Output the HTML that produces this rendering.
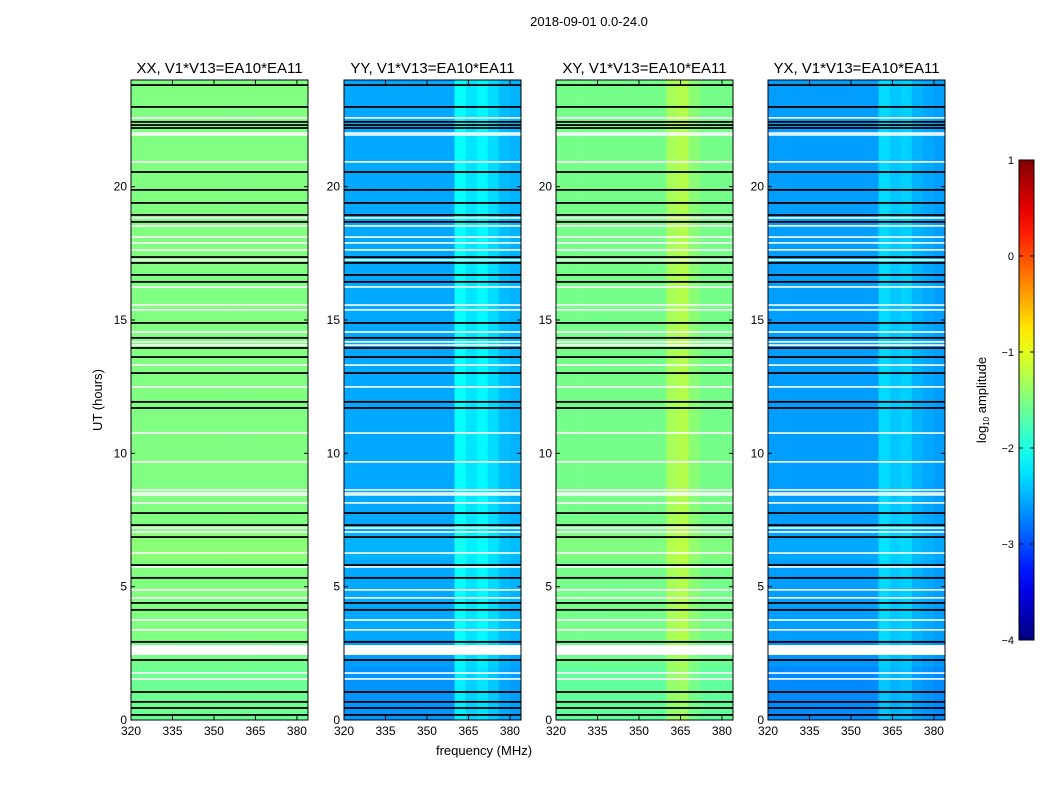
<!DOCTYPE html>
<html><head><meta charset="utf-8">
<style>
html,body{margin:0;padding:0;background:#fff;}
svg{display:block;font-family:"Liberation Sans","DejaVu Sans",sans-serif;}
</style></head>
<body>
<svg id="fig" width="1050" height="800" viewBox="0 0 1050 800" xmlns="http://www.w3.org/2000/svg">
<rect width="1050" height="800" fill="#fff"/>
<text x="589" y="26" font-size="13" text-anchor="middle">2018-09-01 0.0-24.0</text>
<text transform="translate(102,400) rotate(-90)" font-size="13" text-anchor="middle">UT (hours)</text>
<text x="484" y="755" font-size="13" text-anchor="middle">frequency (MHz)</text>
<g id="panels"></g>
<g id="cbar"></g>
</svg>
<script>
// ---- data ----
const panelNames = ["XX","YY","XY","YX"];
const panelBase = [-1.5, -2.55, -1.55, -2.6];
const freqBins = [320,324,328,332,336,340,344,348,352,356,360,364,368,372,376,380,384];
const colOffsetXX = [0,0,0,0,0,0,0,0,0,0,0,0,0,0,0,0];
const colOffsetYY = [0,0,0,0,0,0,0,0,0,0,0.45,0.3,0.4,0.25,0.1,0.05];
const colOffsetXY = [0,0,0,0,0,0,0,0,0,0,0.25,0.3,0.1,0,0,0];
const colOffsetYX = [0,0,0,0,0,0,0,0,0,0,0.3,0.2,0.25,0.1,0.05,0];
const hourOffsets = [-0.1,-0.1,-0.05,0,0,0,0.05,0,0,0,0,0,0,0,0,0,0,0,0,0,0,0,0,0];
const blackLines = [23.81,22.99,22.43,22.31,22.2,20.55,19.88,19.39,18.94,18.68,17.36,17.14,16.69,16.43,14.89,14.33,13.95,13.61,13.01,11.93,11.7,7.76,7.31,6.86,5.81,5.33,4.39,4.13,2.93,2.25,1.05,0.68,0.45,0.19];
const whiteLines = [22.58,22.01,21.94,20.93,18.83,18.53,18.11,17.89,17.63,17.25,16.24,15.56,15.38,14.55,14.18,14.06,13.31,12.49,10.76,9.68,8.63,8.51,8.44,8.14,7.2,7.05,6.26,5.74,4.88,4.58,3.75,3.38,1.76,1.54];
const whiteBlock = [2.44, 2.81];
const xTicks = [320,335,350,365,380];
const yTicks = [0,5,10,15,20];
const cbTicks = [1,0,-1,-2,-3,-4];

const colOffsets = [colOffsetXX,colOffsetYY,colOffsetXY,colOffsetYX];
const panelX = [131,344,556,768];
const PW = 177, PT = 80, PB = 720;
const NS = "http://www.w3.org/2000/svg";
function xs(p,f){return panelX[p] + (f-320)/(384-320)*PW;}
function ys(h){return PB - h/24*(PB-PT);}
function jet(v){
  let t=(v+4)/5; t=Math.max(0,Math.min(1,t));
  const c=x=>Math.max(0,Math.min(1,x));
  const r=c(1.5-Math.abs(4*t-3)), g=c(1.5-Math.abs(4*t-2)), b=c(1.5-Math.abs(4*t-1));
  return `rgb(${Math.round(r*255)},${Math.round(g*255)},${Math.round(b*255)})`;
}
function mk(tag,attrs,parent){const e=document.createElementNS(NS,tag);for(const k in attrs)e.setAttribute(k,attrs[k]);parent.appendChild(e);return e;}
const panels=document.getElementById('panels');
for(let p=0;p<4;p++){
  const g=mk('g',{},panels);
  
  
  for(let i=0;i<freqBins.length-1;i++){
    for(let h=0;h<24;h++){
      const v=panelBase[p]+colOffsets[p][i]+hourOffsets[h];
      const x0=xs(p,freqBins[i]), x1=xs(p,freqBins[i+1]);
      const r=mk('rect',{x:x0,y:ys(h+1),width:x1-x0+0.3,height:ys(h)-ys(h+1)+0.3,fill:jet(v)},g);
      
      
    }
  }
  for(const h of whiteLines){
    const r=mk('rect',{x:panelX[p],y:ys(h)-0.8,width:PW,height:1.6,fill:'#fff'},g);
    
    
  }
  const wb=mk('rect',{x:panelX[p],y:ys(whiteBlock[1]),width:PW,height:ys(whiteBlock[0])-ys(whiteBlock[1]),fill:'#fff'},g);
  
  
  for(const h of blackLines){
    const r=mk('rect',{x:panelX[p],y:ys(h)-0.9,width:PW,height:1.8,fill:'#000'},g);
    
    
  }
  const fr=mk('rect',{x:panelX[p],y:PT,width:PW,height:PB-PT,fill:'none',stroke:'#000','stroke-width':1},g);
  
  
  const t=mk('text',{x:panelX[p]+PW/2,y:73,'font-size':15,'text-anchor':'middle'},g);
  t.textContent=panelNames[p]+', V1*V13=EA10*EA11';
  
  
  for(const f of xTicks){
    const x=xs(p,f);
    mk('line',{x1:x,x2:x,y1:PB,y2:PB-4,stroke:'#000'},g);
    mk('line',{x1:x,x2:x,y1:PT,y2:PT+4,stroke:'#000'},g);
    const l=mk('text',{x:x,y:PB+15,'font-size':12,'text-anchor':'middle'},g);
    l.textContent=f;
    
    
  }
  for(const h of yTicks){
    const y=ys(h);
    mk('line',{x1:panelX[p],x2:panelX[p]+4,y1:y,y2:y,stroke:'#000'},g);
    mk('line',{x1:panelX[p]+PW,x2:panelX[p]+PW-4,y1:y,y2:y,stroke:'#000'},g);
    const l=mk('text',{x:panelX[p]-4,y:y+4,'font-size':12,'text-anchor':'end'},g);
    l.textContent=h;
    
    
  }
}
const cb=document.getElementById('cbar');
const CX=1019,CW=15,CT=160,CB=640;
function cy(v){return CT+(1-v)/5*(CB-CT);}
const defs=mk('defs',{},cb);
const grad=mk('linearGradient',{id:'jetg',x1:0,y1:0,x2:0,y2:1},defs);
for(let k=0;k<=20;k++){const v=1-k/20*5;mk('stop',{offset:(k/20),'stop-color':jet(v)},grad);}
const cbr=mk('rect',{x:CX,y:CT,width:CW,height:CB-CT,fill:'url(#jetg)',stroke:'#000','stroke-width':1},cb);


for(const v of cbTicks){
  const y=cy(v);
  mk('line',{x1:CX,x2:CX+4,y1:y,y2:y,stroke:'#000'},cb);
  mk('line',{x1:CX+CW,x2:CX+CW-4,y1:y,y2:y,stroke:'#000'},cb);
  const l=mk('text',{x:CX-5,y:y+4,'font-size':11,'text-anchor':'end'},cb);
  l.textContent=(v<0?'\u2212'+(-v):String(v));
  
  
}
const cl=mk('text',{transform:'translate(986,400) rotate(-90)','font-size':13,'text-anchor':'middle'},cb);
cl.innerHTML='log<tspan font-size="8" dy="3">10</tspan><tspan dy="-3"> amplitude</tspan>';


</script>
</body></html>
